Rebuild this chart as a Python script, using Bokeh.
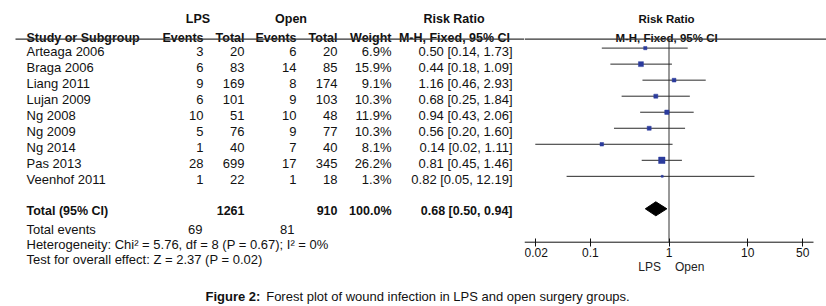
import math
from bokeh.plotting import figure
from bokeh.layouts import row, column
from bokeh.models import Range1d, FixedTicker, Span
from bokeh.core.properties import value
from bokeh.embed import file_html
from bokeh.resources import INLINE

# ---------------- data ----------------
studies = ["Arteaga 2006", "Braga 2006", "Liang 2011", "Lujan 2009", "Ng 2008",
           "Ng 2009", "Ng 2014", "Pas 2013", "Veenhof 2011"]
lps_events = [3, 6, 9, 6, 10, 5, 1, 28, 1]
lps_total = [20, 83, 169, 101, 51, 76, 40, 699, 22]
open_events = [6, 14, 8, 9, 10, 9, 7, 17, 1]
open_total = [20, 85, 174, 103, 48, 77, 40, 345, 18]
weights = [6.9, 15.9, 9.1, 10.3, 11.9, 10.3, 8.1, 26.2, 1.3]
rr = [0.50, 0.44, 1.16, 0.68, 0.94, 0.56, 0.14, 0.81, 0.82]
rr_lo = [0.14, 0.18, 0.46, 0.25, 0.43, 0.20, 0.02, 0.45, 0.05]
rr_hi = [1.73, 1.09, 2.93, 1.84, 2.06, 1.60, 1.11, 1.46, 12.19]

total_lps_n = 1261
total_open_n = 910
total_weight = 100.0
total_lps_events = 69
total_open_events = 81
total_rr = 0.68
total_lo = 0.50
total_hi = 0.94

heterogeneity = "Heterogeneity: Chi\u00b2 = 5.76, df = 8 (P = 0.67); I\u00b2 = 0%"
overall_test = "Test for overall effect: Z = 2.37 (P = 0.02)"

ticks = [0.02, 0.1, 1, 10, 50]
tick_labels = ["0.02", "0.1", "1", "10", "50"]
favours = ["LPS", "Open"]
caption_bold = "Figure 2:"
caption_text = "Forest plot of wound infection in LPS and open surgery groups."

# ---------------- style / layout constants ----------------
FONT = "Liberation Sans"
INK = "#111111"
REG = "13px"
BOLD = "12.5px"
W, H = 826, 306
SPLIT = 524          # table | forest boundary (px)
ROW_H = 284          # height of table+forest row
PX_DEC = 78.7        # pixels per decade on the forest axis
X1 = 668.5           # pixel position of RR = 1
AXIS_Y = 241.7
AXIS_HALF = 1.836    # axis half-length in decades


def base_fig(w, h, xr, yr, **kw):
    p = figure(width=w, height=h, x_range=xr, y_range=yr, output_backend="svg",
               toolbar_location=None, min_border=0, min_border_left=0,
               min_border_right=0, min_border_top=0, min_border_bottom=0, **kw)
    p.outline_line_color = None
    p.grid.visible = False
    p.background_fill_color = "white"
    p.border_fill_color = "white"
    return p


def txt(p, x, y, t, align="left", bold=False, size=None, baseline="middle",
        x_offset=0, color=INK):
    p.text(x=x, y=y, text=t, text_font=value(FONT),
           text_font_size=value(size or (BOLD if bold else REG)),
           text_font_style="bold" if bold else "normal",
           text_align=align, text_baseline=baseline, text_color=color,
           x_offset=x_offset)


n = len(studies)
text_y = [50.6 + 16.03 * i for i in range(n)]
mark_y = [y - 3.0 for y in text_y]
total_y = 210.0
HDR1 = 18.5
HDR2 = 37.3
RULE_Y = 38.6

# ---------------- table figure ----------------
A = base_fig(SPLIT, ROW_H, Range1d(0, SPLIT), Range1d(ROW_H, 0),
             x_axis_type=None, y_axis_type=None)

txt(A, [197.5, 290.5], [HDR1] * 2, ["LPS", "Open"], align="center", bold=True)
txt(A, [453.5], [HDR1], ["Risk Ratio"], align="center", bold=True)
txt(A, [26], [HDR2], ["Study or Subgroup"], bold=True, baseline="alphabetic")
txt(A, [203, 244, 296, 337, 391], [HDR2] * 5,
    ["Events", "Total", "Events", "Total", "Weight"], align="right", bold=True,
    baseline="alphabetic")
txt(A, [454], [HDR2], ["M-H, Fixed, 95% CI"], align="center", bold=True,
    baseline="alphabetic")
A.segment(x0=[15], x1=[SPLIT], y0=[RULE_Y], y1=[RULE_Y], line_color="#333333",
          line_width=1.2)

txt(A, [26] * n, text_y, studies)
txt(A, [203] * n, text_y, [str(v) for v in lps_events], align="right")
txt(A, [244] * n, text_y, [str(v) for v in lps_total], align="right")
txt(A, [296] * n, text_y, [str(v) for v in open_events], align="right")
txt(A, [337] * n, text_y, [str(v) for v in open_total], align="right")
txt(A, [391] * n, text_y, [f"{w:.1f}%" for w in weights], align="right")
txt(A, [512] * n, text_y,
    [f"{a:.2f} [{b:.2f}, {c:.2f}]" for a, b, c in zip(rr, rr_lo, rr_hi)],
    align="right")

txt(A, [26], [total_y], ["Total (95% CI)"], bold=True)
txt(A, [244, 337, 391], [total_y] * 3,
    [str(total_lps_n), str(total_open_n), f"{total_weight:.1f}%"],
    align="right", bold=True)
txt(A, [512], [total_y], [f"{total_rr:.2f} [{total_lo:.2f}, {total_hi:.2f}]"],
    align="right", bold=True)
txt(A, [26], [228.5], ["Total events"])
txt(A, [202, 294], [228.5] * 2, [str(total_lps_events), str(total_open_events)],
    align="right")
txt(A, [26], [244.2], [heterogeneity])
txt(A, [26], [259.0], [overall_test])

# ---------------- forest figure ----------------
lo_lim = 10 ** ((SPLIT - X1) / PX_DEC)
hi_lim = 10 ** ((W - X1) / PX_DEC)
B = base_fig(W - SPLIT, ROW_H, Range1d(lo_lim, hi_lim), Range1d(ROW_H, 0),
             x_axis_type="log", y_axis_type=None)

B.add_layout(Span(location=RULE_Y, dimension="width", line_color="#333333",
                  line_width=1.2))
txt(B, [0.93], [HDR1], ["Risk Ratio"], align="center", bold=True, size="11.5px")
txt(B, [0.93], [HDR2], ["M-H, Fixed, 95% CI"], align="center", bold=True,
    size="11.5px", baseline="alphabetic")

# line of no effect
B.segment(x0=[1], x1=[1], y0=[RULE_Y], y1=[AXIS_Y], line_color="#333333",
          line_width=1)
# study CIs and weight squares
B.segment(x0=rr_lo, x1=rr_hi, y0=mark_y, y1=mark_y, line_color="#2a2a2a",
          line_width=1)
B.scatter(x=rr, y=mark_y, marker="square",
          size=[max(2.0, 1.25 * math.sqrt(w)) for w in weights],
          fill_color="#2B3B9C", line_color="#2B3B9C", line_width=0.5)
# pooled diamond
dy = total_y - 1.7
B.patch(x=[total_lo, total_rr, total_hi, total_rr],
        y=[dy, dy - 7, dy, dy + 7], fill_color="black", line_color="black")

# axis
ax = B.xaxis[0]
ax.fixed_location = AXIS_Y
ax.ticker = FixedTicker(ticks=ticks, minor_ticks=[])
ax.major_label_overrides = {t: l for t, l in zip(ticks, tick_labels)}
ax.major_tick_in = 4
ax.major_tick_out = 4
ax.minor_tick_in = 0
ax.minor_tick_out = 0
ax.axis_line_color = None
ax.major_tick_line_color = INK
ax.major_label_text_font = FONT
ax.major_label_text_font_size = "12px"
ax.major_label_text_color = INK
ax.major_label_standoff = 2
B.segment(x0=[10 ** -AXIS_HALF], x1=[10 ** AXIS_HALF], y0=[AXIS_Y], y1=[AXIS_Y],
          line_color=INK, line_width=1)

txt(B, [1], [266.7], [favours[0]], align="right", size="12px", x_offset=-8,
    color="#222222")
txt(B, [1], [266.7], [favours[1]], align="left", size="12px", x_offset=6,
    color="#222222")

# ---------------- caption ----------------
C = base_fig(W, H - ROW_H, Range1d(0, W), Range1d(H, ROW_H),
             x_axis_type=None, y_axis_type=None)
txt(C, [205], [296.0], [caption_bold], bold=True, size="13px")
txt(C, [265.7], [296.0], [caption_text], size="13px")

layout = column(row(A, B, spacing=0), C, spacing=0)
open("out.html", "w").write(file_html(layout, INLINE))
